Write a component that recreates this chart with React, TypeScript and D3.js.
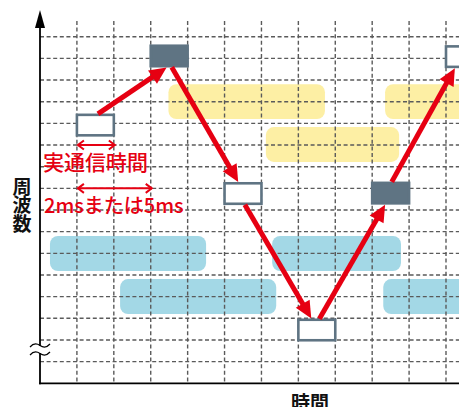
import React from "react";
import * as d3 from "d3";

const W = 459;
const H = 407;

// grid
const gridCols = [1, 2, 3, 4, 5, 6, 7, 8, 9, 10, 11];
const gridRows = [1, 2, 3, 4, 5, 6, 7, 8, 9, 10, 11, 12, 13, 14, 15, 16];

// transmission slots (column start, centre row, filled?)
const slotCols = [1, 3, 5, 7, 9, 11];
const slotRows = [11.92, 15.11, 8.76, 2.46, 8.78, 15.08];
const slotFilled = [false, true, false, false, true, false];

// hopping arrows between slots
const arrowFrom = [0, 1, 2, 3, 4];
const arrowTo = [1, 2, 3, 4, 5];
const arrowStartFrac = [0.57, 0.57, 0.55, 0.57, 0.53];
const arrowEndFrac = [0.43, 0.37, 0.35, 0.35, 0.24];

// yellow interference bands
const yellowX0 = [3.48, 6.12, 9.35];
const yellowX1 = [7.72, 9.73, 12.6];
const yellowTop = [13.81, 11.83, 13.81];
const yellowBot = [12.2, 10.22, 12.2];

// blue interference bands
const blueX0 = [0.27, 2.17, 6.29, 9.3];
const blueX1 = [4.5, 6.4, 9.78, 12.6];
const blueTop = [6.8, 4.81, 6.8, 4.81];
const blueBot = [5.18, 3.2, 5.18, 3.2];

// annotation spans
const spanX0 = [1, 1];
const spanX1 = [2, 3];
const spanRow = [11, 9];
const spanLabels = ["実通信時間", "2msまたは5ms"];

const yLabel = ["周", "波", "数"];
const xLabel = "時間";

const RED = "#e60012";
const SLATE = "#5f7483";
const FONT = "'Noto Sans CJK JP', 'Noto Sans', sans-serif";

export default function App() {
  const x = d3.scaleLinear().domain([0, 11]).range([40, 446]);
  const y = d3.scaleLinear().domain([0, 16]).range([383.3, 36.7]);
  const slotH = 0.946;
  const step = x(1) - x(0);

  const slotRect = (i: number) => {
    const x0 = x(slotCols[i]);
    const top = y(slotRows[i] + slotH / 2);
    const bot = y(slotRows[i] - slotH / 2);
    return { x0, top, bot };
  };

  const arrows = arrowFrom.map((f, k) => {
    const a = slotRect(f);
    const b = slotRect(arrowTo[k]);
    const up = slotRows[arrowTo[k]] > slotRows[f];
    const sx = a.x0 + step * arrowStartFrac[k];
    const sy = up ? a.top - 1 : a.bot + 1;
    const ex = b.x0 + step * arrowEndFrac[k];
    const ey = up ? b.bot + 1.3 : b.top - 1.3;
    const dx = ex - sx;
    const dy = ey - sy;
    const len = Math.hypot(dx, dy);
    const ux = dx / len;
    const uy = dy / len;
    const hl = 17;
    const hw = 8;
    const bx = ex - ux * hl;
    const by = ey - uy * hl;
    const head = [
      [ex, ey],
      [bx - uy * hw, by + ux * hw],
      [bx + uy * hw, by - ux * hw],
    ];
    return { sx, sy, lx: ex - ux * (hl - 2), ly: ey - uy * (hl - 2), head };
  });

  const line = d3.line();

  return (
    <svg
      width={W}
      height={H}
      style={{ position: "absolute", left: 0, top: 0, background: "#fff" }}
      fontFamily={FONT}
    >
      {/* bands */}
      {yellowX0.map((v, i) => (
        <rect
          key={"y" + i}
          x={x(v)}
          y={y(yellowTop[i])}
          width={x(yellowX1[i]) - x(v)}
          height={y(yellowBot[i]) - y(yellowTop[i])}
          rx={8}
          fill="#fdefa4"
        />
      ))}
      {blueX0.map((v, i) => (
        <rect
          key={"b" + i}
          x={x(v)}
          y={y(blueTop[i])}
          width={x(blueX1[i]) - x(v)}
          height={y(blueBot[i]) - y(blueTop[i])}
          rx={8}
          fill="#a3d8e6"
        />
      ))}

      {/* grid */}
      {gridCols.map((c) => (
        <line
          key={"gc" + c}
          x1={x(c)}
          x2={x(c)}
          y1={21}
          y2={y(0)}
          stroke="#5a5a5a"
          strokeWidth={1.4}
          strokeDasharray="4,2.6"
        />
      ))}
      {gridRows.map((r) => (
        <line
          key={"gr" + r}
          x1={x(0)}
          x2={W}
          y1={y(r)}
          y2={y(r)}
          stroke="#5a5a5a"
          strokeWidth={1.4}
          strokeDasharray="4,2.6"
        />
      ))}

      {/* axes */}
      <line x1={x(0)} x2={x(0)} y1={y(0) + 1} y2={22} stroke="#000" strokeWidth={1.8} />
      <line x1={x(0) - 0.9} x2={W} y1={y(0)} y2={y(0)} stroke="#000" strokeWidth={1.8} />
      <polygon
        points={`${x(0)},10 ${x(0) - 5},28 ${x(0) + 5},28`}
        fill="#000"
      />
      {/* axis break */}
      <rect x={x(0) - 3} y={346} width={6} height={7} fill="#fff" />
      {[345.5, 353.5].map((yy) => (
        <path
          key={"br" + yy}
          d={`M30,${yy + 1.5} C34,${yy - 3} 37,${yy - 2} 40,${yy} S46,${yy + 3} 50,${yy - 1.5}`}
          fill="none"
          stroke="#000"
          strokeWidth={1.2}
        />
      ))}

      {/* slots */}
      {slotCols.map((c, i) => {
        const r = slotRect(i);
        return (
          <rect
            key={"s" + i}
            x={r.x0}
            y={r.top}
            width={step}
            height={r.bot - r.top}
            fill={slotFilled[i] ? SLATE : "#fff"}
            stroke={SLATE}
            strokeWidth={2.6}
          />
        );
      })}

      {/* hop arrows */}
      {arrows.map((a, k) => (
        <g key={"a" + k}>
          <line x1={a.sx} y1={a.sy} x2={a.lx} y2={a.ly} stroke={RED} strokeWidth={5} />
          <polygon points={a.head.map((p) => p.join(",")).join(" ")} fill={RED} />
        </g>
      ))}

      {/* annotation spans */}
      {spanX0.map((v, i) => {
        const x0 = x(v) + 1;
        const x1 = x(spanX1[i]) + 1;
        const yy = y(spanRow[i]);
        const hx = 6;
        const hy = 4.5;
        return (
          <g key={"sp" + i} stroke={RED} strokeWidth={2} fill="none">
            <line x1={x0} x2={x1} y1={yy} y2={yy} />
            <path d={line([[x0 + hx, yy - hy], [x0, yy], [x0 + hx, yy + hy]]) || ""} />
            <path d={line([[x1 - hx, yy - hy], [x1, yy], [x1 - hx, yy + hy]]) || ""} />
          </g>
        );
      })}
      <text x={43} y={170} fontSize={21} fontWeight={500} fill={RED}>
        {spanLabels[0]}
      </text>
      <text x={44} y={213} fontSize={20} fontWeight={500} fill={RED}>
        {spanLabels[1]}
      </text>

      {/* axis labels */}
      {yLabel.map((ch, i) => (
        <text
          key={"yl" + i}
          x={22}
          y={194 + i * 18.3}
          fontSize={19}
          fontWeight="bold"
          textAnchor="middle"
          fill="#111"
        >
          {ch}
        </text>
      ))}
      <text x={310} y={410} fontSize={19} fontWeight="bold" textAnchor="middle" fill="#111">
        {xLabel}
      </text>
    </svg>
  );
}
